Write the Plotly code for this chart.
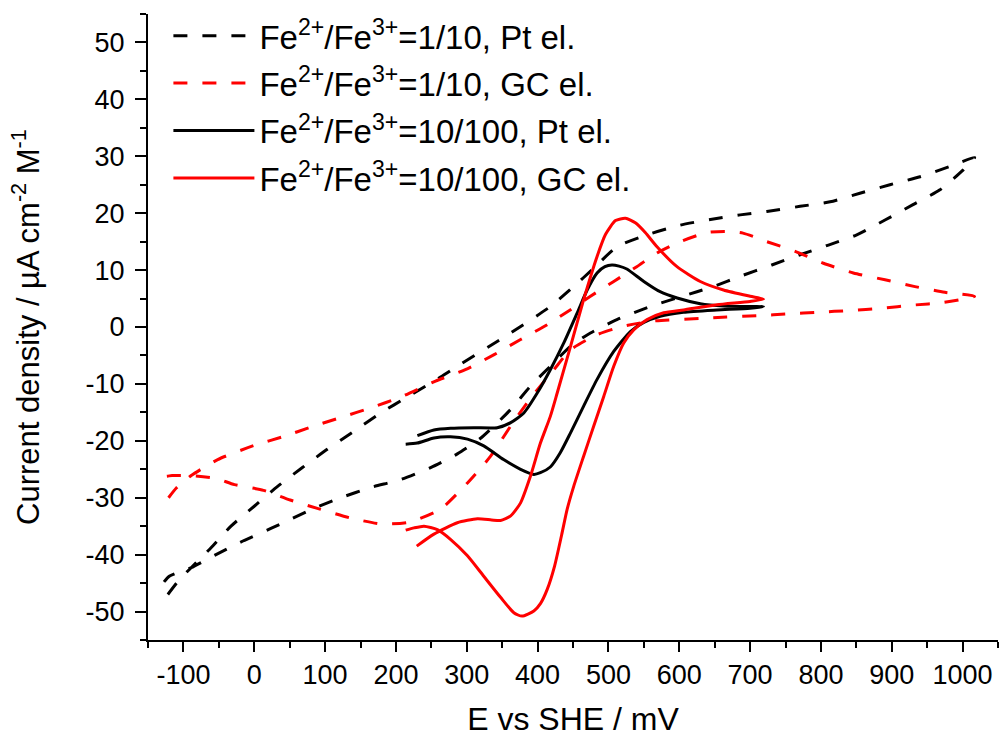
import plotly.graph_objects as go

# ---- data (E in mV vs SHE, current density in uA cm^-2 M^-1) ----
pt_1_10_E = [-122, -107, -91.6, -61, -32.8, 0, 33, 68, 103, 141, 178.6, 216, 263, 286.7, 362, 418, 451, 479,
             512, 554.6, 601.5, 644, 686, 723.7, 770.6, 813, 855, 897.4, 940, 982, 1017,
             1001, 968, 930, 890.5, 850.6, 810.6, 770.6, 730.7, 686, 648, 625, 559, 512, 474.6, 446.5, 418,
             390, 362, 320, 286.7, 249, 207, 164.5, 122, 82, 23.5, -16, -54, -89, -105, -120, -132]
pt_1_10_J = [-47, -44.6, -42.6, -38.8, -35, -31.5, -28, -24.7, -21.5, -18.3, -15.1, -12.3, -8.8, -6.9, -1.05, 3.6, 7.1, 10.3,
             14.1, 16.2, 17.9, 18.9, 19.7, 20.3, 21.2, 22, 23.5, 25, 26.4, 28.2, 29.8,
             27.6, 24.1, 21.5, 18.8, 16.2, 14.4, 12.7, 10.9, 8.9, 7.1, 6.2, 3.6, 1.3, -1.05, -3.4, -6.9,
             -10.4, -14.5, -19.5, -22.3, -24.7, -26.8, -28.2, -30, -32, -35.4, -37.6, -40, -42.3, -43, -43.8, -45.5]

gc_1_10_E = [-121, -110, -89, -51.6, 0, 40, 82, 124.6, 164.5, 206.8, 256, 298, 338, 376, 413.6, 446, 474.6,
             507.5, 540, 568.6, 601.5, 639, 665, 690, 723.7, 763.6, 803.5, 845.8, 890.5, 932.8, 975, 1017,
             972.7, 930.4, 885.7, 841, 796.5, 754, 712, 667, 630, 559, 517, 484, 446.5, 423, 392, 362, 333.7,
             301, 263, 218.5, 178.6, 134, 92.6, 50.8, 13, -28, -54, -89, -116, -127, -123]
gc_1_10_J = [-30, -28.3, -26.1, -23.3, -20.8, -19.3, -17.5, -15.8, -14.2, -12.3, -9.5, -7.5, -4.9, -2.2, 0.4, 3.0, 5.4,
             8.0, 10.6, 13, 15, 16.6, 16.8, 16.5, 15.0, 13.3, 11.2, 9.5, 8.3, 7.1, 6.1, 5.4,
             4.3, 3.85, 3.3, 2.9, 2.6, 2.3, 2.0, 1.75, 1.5, 1.0, 0, -1.35, -4, -7.5, -12.2, -17.4, -22.7,
             -27.4, -32, -34.3, -34.6, -33.5, -32, -30.4, -28.7, -27.7, -26.6, -26.1, -26.1, -26.2, -24.5]

pt_10_100_E = [230.3, 253.7, 277.3, 310, 343, 362, 380.6, 399.5, 418, 437, 456, 470, 484, 495, 505, 515, 526,
               550, 573, 597, 629.7, 662.5, 700, 719,
               700, 653, 606, 573, 550, 531, 507.5, 484, 465, 446.5, 432, 418, 404, 394.7, 376, 352, 324,
               301, 277, 253.7, 230, 213.8]
pt_10_100_J = [-19.1, -18.1, -17.8, -17.7, -17.7, -16.8, -15.1, -11.6, -7.5, -2.8, 2.5, 6.5, 9.5, 10.6, 10.9, 10.7, 10.2,
               8.0, 6.2, 5.1, 4.1, 3.7, 3.6, 3.6,
               3.3, 3.0, 2.6, 1.9, 0.8, -0.8, -4.3, -9.2, -13.9, -18.6, -22.1, -24.6, -25.6, -25.9, -25.0, -23.3, -20.9,
               -19.7, -19.3, -19.5, -20.4, -20.6]

gc_10_100_E = [229.4, 253.7, 286.7, 315, 335, 347.7, 362, 376, 390, 404, 418, 427.7, 446.5, 465, 484, 496, 510, 524,
               538, 552, 568.6, 596.8, 629.7, 662.5, 700, 719,
               700, 653, 606, 578, 554.6, 535.7, 521.6, 507.5, 493.4, 479.3, 465, 451, 441.8, 434, 424, 413.6, 404,
               394.7, 378, 366.5, 347.7, 324, 301, 277, 258.5, 239.6, 225.5, 213.8]
gc_10_100_J = [-38.5, -36.4, -34.4, -33.7, -33.9, -34, -33.2, -30.9, -26.2, -20.4, -15.7, -11.6, -3.4, 4.8, 12.4, 16.3, 18.7, 19.1,
               18.3, 16.6, 14.1, 10.6, 8.0, 6.5, 5.4, 4.9,
               4.5, 3.9, 3.0, 2.5, 1.3, -0.5, -2.8, -6.9, -12.2, -17.4, -22.7, -28, -32, -36.5, -42, -46.1, -48.6,
               -49.9, -50.8, -50.2, -47.5, -43.8, -40.2, -37.3, -35.6, -35.0, -35.3, -35.7]

names = [
    "Fe<sup>2+</sup>/Fe<sup>3+</sup>=1/10, Pt el.",
    "Fe<sup>2+</sup>/Fe<sup>3+</sup>=1/10, GC el.",
    "Fe<sup>2+</sup>/Fe<sup>3+</sup>=10/100, Pt el.",
    "Fe<sup>2+</sup>/Fe<sup>3+</sup>=10/100, GC el.",
]
x_ticks = list(range(-100, 1001, 100))
y_ticks = list(range(-50, 51, 10))
x_ticktext = [str(v) for v in x_ticks]   # plain hyphen minus, as in the original
y_ticktext = [str(v) for v in y_ticks]

FONT = "Liberation Sans, Arial, sans-serif"
DASH = "14px,15px"
LW = 3

fig = go.Figure()
series = [
    (pt_1_10_E, pt_1_10_J, "black", DASH),
    (gc_1_10_E, gc_1_10_J, "#ff0000", DASH),
    (pt_10_100_E, pt_10_100_J, "black", "solid"),
    (gc_10_100_E, gc_10_100_J, "#ff0000", "solid"),
]
for i, ((xs, ys, col, dash), nm) in enumerate(zip(series, names)):
    fig.add_trace(go.Scatter(x=xs, y=ys, mode="lines", name=nm, legendgroup=f"g{i}",
                             line=dict(color=col, width=LW, dash=dash, shape="spline", smoothing=0.6)))

axis_common = dict(showline=True, linecolor="black", linewidth=2, ticks="outside", tickwidth=2,
                   tickcolor="black", showgrid=False, zeroline=False, mirror=False, automargin=False,
                   tickfont=dict(family=FONT, size=27, color="black"))

fig.update_layout(
    width=999, height=740,
    margin=dict(l=148, r=1, t=14, b=100, autoexpand=False),
    paper_bgcolor="white", plot_bgcolor="white",
    font=dict(family=FONT, color="black"),
    legend=dict(x=0.024, y=1.01, xanchor="left", yanchor="top", bgcolor="rgba(0,0,0,0)",
                font=dict(family=FONT, size=33, color="black"), itemwidth=81,
                tracegroupgap=1.5),
    xaxis=dict(range=[-150, 1050], tickvals=x_ticks, ticktext=x_ticktext, ticklen=10,
               ticklabelstandoff=0,
               minor=dict(dtick=50, tick0=0, ticklen=6, tickwidth=2, tickcolor="black", ticks="outside"),
               title=dict(text="E vs SHE / mV", font=dict(family=FONT, size=32), standoff=18),
               **axis_common),
    yaxis=dict(range=[-55, 55], tickvals=y_ticks, ticktext=y_ticktext, ticklen=11,
               ticklabelstandoff=5,
               minor=dict(dtick=5, tick0=0, ticklen=6, tickwidth=2, tickcolor="black", ticks="outside"),
               title=dict(text="Current density / µA cm<sup>-2</sup> M<sup>-1</sup>",
                          font=dict(family=FONT, size=31), standoff=37),
               **axis_common),
)

fig.write_html("out.html", config={"displayModeBar": False},
               post_script="document.body.style.margin='0';document.body.style.overflow='hidden';")
